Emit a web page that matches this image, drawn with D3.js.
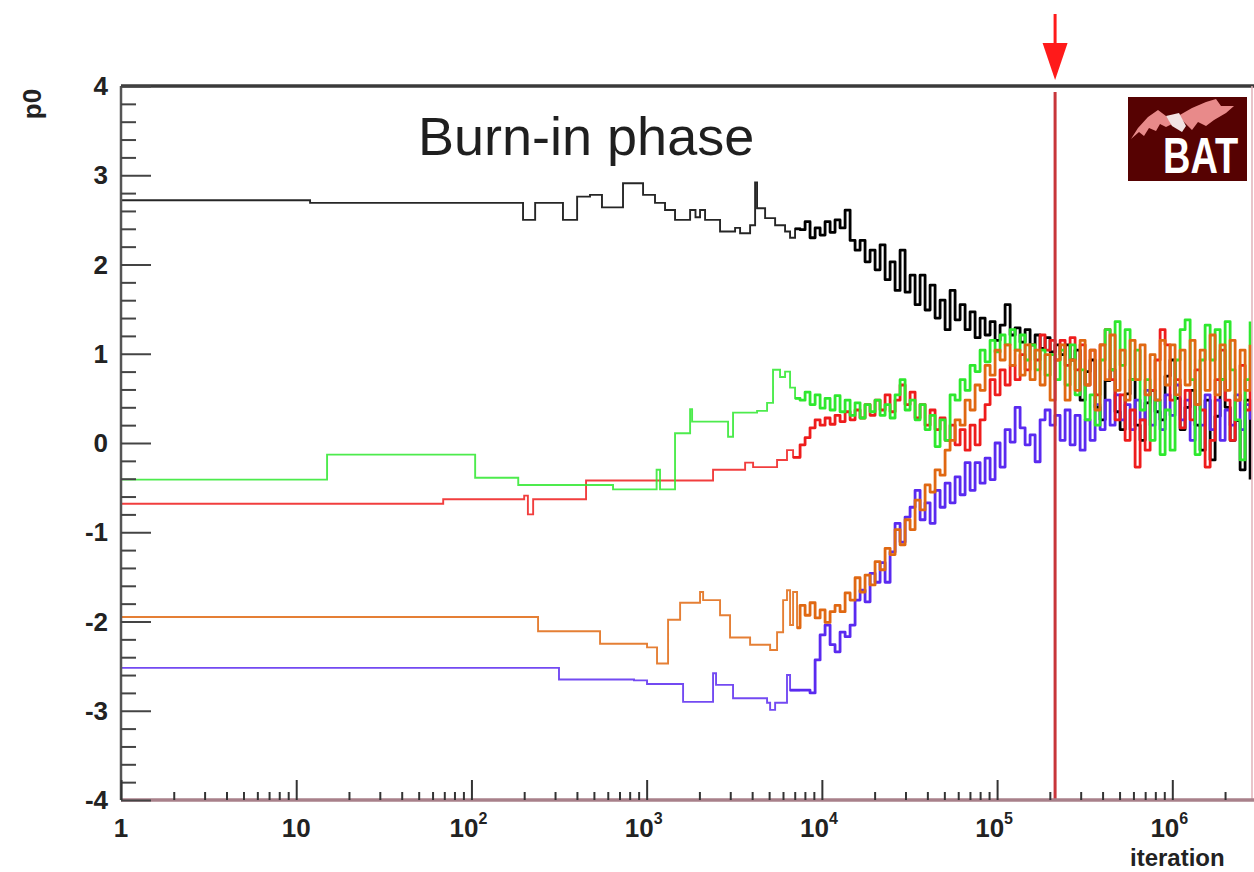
<!DOCTYPE html>
<html><head><meta charset="utf-8">
<script src="https://cdn.jsdelivr.net/npm/d3@7"></script>
<style>body{margin:0;background:#fff} svg{display:block}</style>
</head><body>
<svg id="c" width="1254" height="872"></svg>
<script>
// ---------- data ----------
const yTickValues = [-4,-3,-2,-1,0,1,2,3,4];
const xTickValues = [1,10,100,1000,10000,100000,1000000];
const xTickLabels = [["1",""],["10",""],["10","2"],["10","3"],["10","4"],["10","5"],["10","6"]];
const yLabel = "p0";
const xLabel = "iteration";
const title = "Burn-in phase";
const burnInEnd = 214300;

// iterations shared by the dense part of all chains
const iterGrid = [7510,8020,8560,9150,9770,10430,11140,11890,12700,13570,14490,15470,16520,17640,18840,20120,21490,22950,24510,26170,
 27950,29850,31870,34040,36350,38820,41460,44270,47280,50490,53920,57580,61500,65670,70130,74890,79980,85410,91210,97400,
 104000,111100,118700,126700,135300,144500,154300,164800,176000,187900,200700,214300,228800,244400,261000,278700,297700,317900,339500,362500,
 387200,413500,441600,471500,503600,537800,574300,613300,655000,699500,747000,797700,851900,909800,971400,1037000,1108000,1183000,1264000,1349000,
 1441000,1539000,1644000,1755000,1875000,2002000,2138000,2283000,2438000,2603000,2780000];

// sparse (step) part of each chain: [iteration, p0]
const blackSteps = [[1,2.72],[12,2.69],[197,2.50],[231,2.69],[333,2.50],[401,2.76],[475,2.78],[556,2.64],[733,2.91],[954,2.78],[1116,2.69],[1273,2.61],[1452,2.50],[1770,2.61],[1900,2.53],[2017,2.61],[2155,2.50],[2624,2.37],[3197,2.41],[3414,2.35],[3894,2.44],[4159,2.92],[4268,2.63],[4743,2.52],[5410,2.44],[6166,2.37],[6584,2.30],[7031,2.40]];
const greenSteps = [[1,-0.41],[15,-0.13],[105,-0.39],[185,-0.47],[643,-0.52],[1140,-0.30],[1192,-0.52],[1452,0.11],[1770,0.38],[1817,0.24],[2915,0.07],[3112,0.34],[4268,0.36],[4867,0.45],[5263,0.82],[5772,0.74],[6166,0.80],[6584,0.62],[7031,0.50]];
const redSteps = [[1,-0.68],[69,-0.63],[200,-0.59],[210,-0.80],[225,-0.63],[451,-0.42],[2393,-0.30],[3647,-0.22],[4050,-0.27],[5550,-0.19],[6324,-0.08],[6850,-0.16]];
const orangeSteps = [[1,-1.95],[240,-2.11],[542,-2.25],[1005,-2.29],[1146,-2.47],[1325,-1.98],[1552,-1.79],[2017,-1.67],[2100,-1.76],[2624,-1.93],[2992,-2.18],[3894,-2.26],[5066,-2.32],[5550,-2.12],[6009,-1.76],[6324,-1.65],[6584,-2.04],[6850,-1.67],[7216,-2.07]];
const blueSteps = [[1,-2.52],[316,-2.65],[847,-2.66],[1005,-2.70],[1614,-2.90],[2393,-2.58],[2489,-2.71],[3112,-2.86],[4867,-2.91],[5066,-2.99],[5410,-2.91],[6324,-2.60],[6584,-2.77]];

// dense part, one value per entry of iterGrid
const blackNoise = [2.39,2.48,2.30,2.41,2.33,2.48,2.36,2.50,2.41,2.61,2.27,2.16,2.27,2.03,2.16,1.94,2.22,1.83,2.03,1.71,
 2.16,1.69,1.88,1.55,1.88,1.49,1.77,1.40,1.60,1.27,1.71,1.38,1.55,1.27,1.47,1.18,1.40,1.21,1.36,1.15,
 1.32,1.55,1.21,1.29,1.13,1.27,1.10,1.21,1.06,1.18,1.02,1.10,0.99,1.10,0.93,1.04,
 0.48,0.80,0.93,0.40,0.26,0.70,0.82,0.35,0.15,0.55,0.71,0.20,0.03,0.45,0.59,0.35,0.26,0.75,0.93,0.50,
 0.15,0.40,0.59,0.20,-0.08,0.48,-0.19,0.30,0.71,0.40,0.03,0.25,-0.30,0.48,-0.41];
const greenNoise = [0.48,0.57,0.43,0.54,0.39,0.50,0.37,0.53,0.35,0.48,0.31,0.45,0.28,0.43,0.35,0.48,0.31,0.43,0.28,0.54,
 0.71,0.37,0.48,0.26,0.43,0.15,0.31,-0.04,0.26,0.03,0.54,0.48,0.71,0.59,0.87,0.80,1.04,0.91,1.15,1.02,
 1.21,1.10,1.27,1.04,1.21,0.93,1.10,0.82,1.04,0.76,0.99,0.71,
 1.04,0.65,1.10,0.54,0.82,0.26,0.54,0.20,0.93,1.27,0.82,1.36,0.87,1.27,0.71,1.04,0.37,0.71,0.03,0.48,
 -0.13,0.37,-0.08,0.93,1.27,1.38,0.71,-0.13,0.93,1.32,0.93,1.27,0.71,1.36,0.82,0.26,-0.19,0.71,1.36];
const redNoise = [-0.02,0.06,0.17,0.26,0.20,0.28,0.21,0.31,0.24,0.35,0.26,0.37,0.28,0.43,0.31,0.48,0.37,0.54,0.35,0.48,
 0.65,0.43,0.57,0.28,0.43,0.20,0.37,0.15,0.28,0.03,0.20,-0.02,0.15,-0.08,0.20,-0.02,0.26,0.43,0.71,0.54,
 0.82,0.65,0.87,0.71,0.99,0.82,1.10,0.93,1.21,1.04,1.15,0.93,
 1.15,0.87,1.18,0.82,1.10,0.65,1.04,0.54,1.10,1.27,0.71,0.26,0.54,0.03,0.37,-0.27,0.26,-0.08,0.59,0.93,
 1.27,1.10,0.48,0.71,0.17,0.59,0.26,0.82,0.37,-0.27,0.03,0.71,1.04,0.48,0.03,0.48,0.87,0.37,0.71];
const orangeNoise = [-1.82,-1.93,-1.79,-1.96,-1.87,-2.01,-1.89,-1.82,-1.89,-1.68,-1.76,-1.51,-1.67,-1.48,-1.59,-1.33,-1.42,-1.18,-1.25,-0.97,
 -1.14,-0.86,-0.97,-0.64,-0.75,-0.47,-0.55,-0.30,-0.36,-0.08,0.03,0.26,0.20,0.48,0.37,0.65,0.59,0.87,0.76,1.04,
 0.93,1.10,0.87,1.04,0.76,1.10,0.71,1.04,0.65,0.99,0.48,0.93,
 1.10,0.48,0.93,0.59,1.15,0.65,1.04,0.37,1.10,0.71,1.21,0.59,1.04,0.48,1.15,0.71,1.10,0.54,0.99,0.48,
 1.15,0.65,1.10,0.54,1.04,0.65,1.15,0.43,1.04,0.59,1.21,0.54,1.10,0.59,1.15,0.48,1.04,0.59,1.10];
const blueNoise = [-2.77,-2.77,-2.80,-2.43,-2.15,-2.04,-2.26,-2.34,-2.12,-2.17,-2.04,-1.76,-1.65,-1.78,-1.46,-1.56,-1.34,-1.56,-1.22,-0.90,
 -1.11,-0.83,-0.72,-0.53,-0.86,-0.67,-0.90,-0.53,-0.72,-0.45,-0.67,-0.38,-0.58,-0.22,-0.53,-0.22,-0.45,-0.17,-0.41,0.00,
 -0.27,0.15,0.01,0.40,0.17,-0.02,0.09,-0.21,0.26,0.37,0.20,0.31,
 0.03,0.37,-0.02,0.31,-0.08,0.26,0.03,0.43,0.15,0.48,0.20,0.54,0.26,0.43,0.15,0.48,0.26,0.59,0.20,0.48,
 0.15,0.54,0.31,0.65,0.26,0.48,0.03,0.43,0.20,0.54,0.15,0.48,0.03,0.37,0.20,0.54,0.15,0.43,0.26];

const chainNames = ["black","blue","red","green","orange"];
const chainColors = {black:"#000000", blue:"#5a2af0", red:"#ee1c1c", green:"#2ee82e", orange:"#e06812"};

// ---------- drawing ----------
const svg = d3.select("#c");
const L = 121, R = 1252, T = 86, B = 800;
const x = d3.scaleLog().domain([1, 2.85e6]).range([L, R]);
const y = d3.scaleLinear().domain([-4, 4]).range([B, T]);

svg.append("defs").append("clipPath").attr("id","clip")
  .append("rect").attr("x",L).attr("y",T).attr("width",R-L).attr("height",B-T);

const chains = {
  black: [blackSteps, blackNoise],
  blue: [blueSteps, blueNoise],
  red: [redSteps, redNoise],
  green: [greenSteps, greenNoise],
  orange: [orangeSteps, orangeNoise]
};
const line = d3.line().x(d=>x(d[0])).y(d=>y(d[1])).curve(d3.curveStepAfter);
const gLines = svg.append("g").attr("clip-path","url(#clip)");
chainNames.forEach(n=>{
  const [steps, noise] = chains[n];
  const dense = iterGrid.map((it,i)=>[it, noise[i]]).filter(d=>d[1]!==undefined);
  gLines.append("path").datum(steps.concat([dense[0]])).attr("d", line)
    .attr("fill","none").attr("stroke", chainColors[n]).attr("stroke-width",1.9)
    .attr("stroke-opacity",0.85);
  gLines.append("path").datum([steps[steps.length-1]].concat(dense)).attr("d", line)
    .attr("fill","none").attr("stroke", chainColors[n]).attr("stroke-width",2.8)
    .attr("stroke-linejoin","round");
});

// burn-in marker
const xb = x(burnInEnd);
svg.append("line").attr("x1",xb).attr("x2",xb).attr("y1",T+6).attr("y2",B)
  .attr("stroke","#c8353a").attr("stroke-width",3);
svg.append("line").attr("x1",xb).attr("x2",xb).attr("y1",14).attr("y2",46)
  .attr("stroke","#ff1a1a").attr("stroke-width",3);
svg.append("path").attr("d",`M${xb-12.5},43 L${xb+12.5},43 L${xb},80 Z`).attr("fill","#ff1a1a");

// frame
svg.append("line").attr("x1",L).attr("x2",1254).attr("y1",T).attr("y2",T).attr("stroke","#3a3a3a").attr("stroke-width",3.5);
svg.append("line").attr("x1",R).attr("x2",R).attr("y1",T).attr("y2",B).attr("stroke","#e0b0b8").attr("stroke-width",1.5);
svg.append("line").attr("x1",L).attr("x2",1254).attr("y1",B).attr("y2",B).attr("stroke","#a8808a").attr("stroke-width",3.5);
svg.append("line").attr("x1",L).attr("x2",L).attr("y1",T).attr("y2",B).attr("stroke","#555").attr("stroke-width",2.5);

// y ticks
const yMinor = d3.range(-4, 4.001, 0.2).map(v=>+v.toFixed(1)).filter(v=>Math.abs(v-Math.round(v))>0.01);
const yAxMinor = svg.append("g").attr("transform",`translate(${L},0)`)
  .call(d3.axisRight(y).tickValues(yMinor).tickSize(15).tickFormat(""));
const yAxMajor = svg.append("g").attr("transform",`translate(${L},0)`)
  .call(d3.axisRight(y).tickValues(yTickValues).tickSize(30).tickFormat(""));
[yAxMinor,yAxMajor].forEach(g=>{g.select(".domain").remove(); g.selectAll("line").attr("stroke","#444").attr("stroke-width",2);});

svg.append("g").selectAll("text").data(yTickValues).join("text")
  .attr("x",108).attr("y",d=>y(d)+9).attr("text-anchor","end")
  .attr("font-family","Liberation Sans, Arial, sans-serif").attr("font-weight","bold").attr("font-size",26)
  .attr("fill","#222").text(d=>d);

// x ticks
const xMinor = [];
for (let e=0;e<7;e++) for (let k=2;k<=9;k++){ const v=k*Math.pow(10,e); if (v<2.85e6) xMinor.push(v); }
const xAxMinor = svg.append("g").attr("transform",`translate(0,${B})`)
  .call(d3.axisTop(x).tickValues(xMinor).tickSize(8).tickFormat(""));
const xAxMajor = svg.append("g").attr("transform",`translate(0,${B})`)
  .call(d3.axisTop(x).tickValues(xTickValues).tickSize(20).tickFormat(""));
[xAxMinor,xAxMajor].forEach(g=>{g.select(".domain").remove(); g.selectAll("line").attr("stroke","#333").attr("stroke-width",2);});

const xl = svg.append("g").selectAll("text").data(xTickValues).join("text")
  .attr("x",(d,i)=>x(d) + (i>=2 ? -3 : 0)).attr("y",837).attr("text-anchor","middle")
  .attr("font-family","Liberation Sans, Arial, sans-serif").attr("font-weight","bold").attr("font-size",26)
  .attr("fill","#222");
xl.each(function(d,i){
  const t = d3.select(this);
  t.append("tspan").text(xTickLabels[i][0]);
  if (xTickLabels[i][1]) t.append("tspan").attr("dy",-13).attr("font-size",16).text(xTickLabels[i][1]);
});

svg.append("text").attr("x",1130).attr("y",866)
  .attr("font-family","Liberation Sans, Arial, sans-serif").attr("font-weight","bold").attr("font-size",24)
  .attr("fill","#222").text(xLabel);
svg.append("text").attr("transform","translate(41,104) rotate(-90)").attr("text-anchor","middle")
  .attr("font-family","Liberation Sans, Arial, sans-serif").attr("font-weight","bold").attr("font-size",26)
  .attr("fill","#222").text(yLabel);

// title
svg.append("text").attr("x",418).attr("y",155)
  .attr("font-family","Liberation Sans, Arial, sans-serif").attr("font-size",54)
  .attr("fill","#1f1f1f").text(title);

// BAT logo
const logo = svg.append("g");
logo.append("rect").attr("x",1128).attr("y",97).attr("width",119).attr("height",84).attr("fill","#560202");
logo.append("path").attr("d","M1131,139 L1138,128 L1148,117 L1158,110 L1166,116 L1172,124 L1166,127 L1160,124 L1156,131 L1149,128 L1144,136 L1139,132 Z").attr("fill","#e88a8a");
logo.append("path").attr("d","M1178,116 L1192,108 L1206,102 L1216,99 L1221,106 L1234,106 L1226,113 L1214,120 L1206,126 L1198,122 L1192,130 L1186,124 Z").attr("fill","#e88a8a");
logo.append("path").attr("d","M1166,116 L1179,113 L1186,126 L1182,132 L1172,126 Z").attr("fill","#f2e4e4");
logo.append("text").attr("transform","translate(1163,173) scale(1,1.3)")
  .attr("font-family","Liberation Sans, Arial, sans-serif").attr("font-weight","bold").attr("font-size",38)
  .attr("fill","#ffffff").text("BAT");
</script>
</body></html>
